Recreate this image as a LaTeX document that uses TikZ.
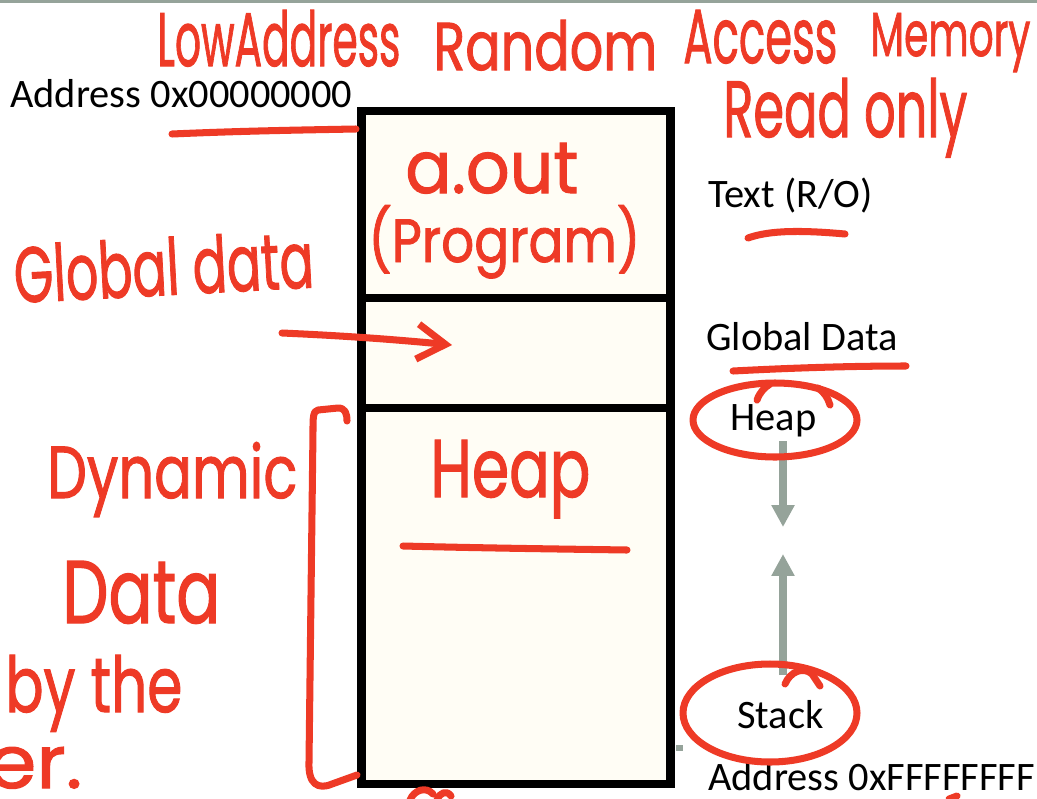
\documentclass[tikz,border=0pt]{standalone}
\usepackage{fontspec}
\usepackage{graphicx}
\setmainfont{Carlito}
\newfontfamily\handfont[FakeBold=1.5]{Poppins}
\usetikzlibrary{positioning,arrows.meta}

\definecolor{inkred}{HTML}{EE3A26}
\definecolor{slidegray}{HTML}{95A39A}
\definecolor{cream}{HTML}{FFFDF5}

\newlength\pxu
\setlength\pxu{0.02cm}
% scribbled words, squeezed to the box they fill
\newcommand\hand[3]{\resizebox{#1\pxu}{#2\pxu}{\handfont #3}}

\tikzset{
  seg/.style={draw=black,line width=5pt,fill=cream,minimum width=309\pxu,inner sep=0pt,outer sep=0pt},
  slidetext/.style={font=\fontsize{23}{27}\selectfont,inner sep=0pt,anchor=base west},
  ink/.style={draw=inkred,line width=4pt,line cap=round,line join=round},
  scrawl/.style={text=inkred,inner sep=0pt,anchor=base west},
  growth/.style={draw=slidegray,line width=4pt,-{Triangle[width=12.5pt,length=12.5pt]}},
}

\begin{document}
\begin{tikzpicture}[x=0.02cm,y=-0.02cm]
\useasboundingbox (0,0) rectangle (1037,798);
\clip (0,0) rectangle (1037,798);
\fill[slidegray] (0,0) rectangle (1037,3);

% memory column
\node[seg,minimum height=187\pxu] (textseg) at (516,204.5) {};
\node[seg,minimum height=110\pxu,below=0pt of textseg] (dataseg) {};
\node[seg,minimum height=376\pxu,below=0pt of dataseg] (heapseg) {};

% printed labels
\node[slidetext] (lowaddr) at (10,107) {Address 0x00000000};
\node[slidetext] (textlbl) at (708,207) {Text (R/O)};
\node[slidetext] (datalbl) at (706,350) {Global Data};
\node[slidetext] (heaplbl) at (730,430) {Heap};
\node[slidetext] (stacklbl) at (737,728) {Stack};
\node[slidetext] (highaddr) at (708,790) {Address 0xFFFFFFFF};

% heap grows down, stack grows up
\coordinate (heaptop) at (783,441);
\coordinate (heapend) at (783,527);
\coordinate (stacktop) at (783,675);
\coordinate (stackend) at (783,554);
\draw[growth] (heaptop) -- (heapend);
\draw[growth] (stacktop) -- (stackend);
\fill[slidegray] (676,745) rectangle (683,751);

% notes in red ink
\node[scrawl] (noteLow) at (157,66) {\hand{243}{56}{LowAddress}};
\node[scrawl] (noteRandom) at (433,70) {\hand{224}{50}{Random}};
\node[scrawl] (noteAccess) at (683,63) {\hand{154}{53}{Access}};
\node[scrawl] (noteMemory) at (870,56) {\hand{160}{43}{Memory}};
\node[scrawl] (noteRO) at (723,137) {\hand{244}{59}{Read only}};
\node[scrawl] (noteAout) at (405,193) {\hand{173}{50}{a.out}};
\node[scrawl] (noteProg) at (368,262) {\hand{272}{57}{(Program)}};
\node[scrawl,rotate=3] (noteGlobal) at (15,303) {\hand{300}{58}{Global data}};
\node[scrawl] (noteDyn) at (47,498) {\hand{250}{56}{Dynamic}};
\node[scrawl] (noteData) at (62,623) {\hand{158}{62}{Data}};
\node[scrawl] (noteBy) at (5,712) {\hand{177}{57}{by the}};
\node[scrawl] (noteEr) at (-13,788) {\hand{95}{41}{er.}};
\node[scrawl] (noteHeap) at (430,497) {\hand{160}{57}{Heap}};

% underlines
\draw[ink] (172,134) .. controls (240,131) and (300,130) .. (356,129);
\draw[ink] (748,238) .. controls (765,232) and (790,229) .. (845,234);
\draw[ink] (733,371) .. controls (790,368) and (850,366) .. (906,366);
\draw[ink] (403,546) .. controls (480,548) and (560,549) .. (627,550);

% arrow into the data segment
\coordinate (gdtail) at (282,333);
\coordinate (gdhead) at (452,345);
\draw[ink,-{Straight Barb[length=16pt,width=20pt]}] (gdtail) .. controls (350,336) and (400,340) .. (gdhead);

% bracket over the dynamic part
\draw[ink] (347,421) .. controls (347,413) and (345,408) .. (338,408) -- (318,410)
  .. controls (313,411) and (313,418) .. (313,430) -- (309,762)
  .. controls (308,784) and (318,790) .. (332,784) -- (357,775);

% rings round heap and stack
\draw[ink] (775,420) ellipse [x radius=82,y radius=37];
\draw[ink] (757,400) .. controls (760,392) and (764,388) .. (770,384);
\draw[ink] (818,388) .. controls (824,392) and (828,398) .. (830,405);
\draw[ink] (770,713) ellipse [x radius=87,y radius=49];
\draw[ink] (785,684) .. controls (790,672) and (803,666) .. (812,674) -- (820,686);

% bits cut off at the bottom
\draw[ink] (410,800) .. controls (414,790) and (426,786) .. (433,794);
\draw[ink] (437,800) .. controls (440,792) and (447,790) .. (451,796);
\draw[ink] (949,799) -- (957,796);
\end{tikzpicture}
\end{document}
